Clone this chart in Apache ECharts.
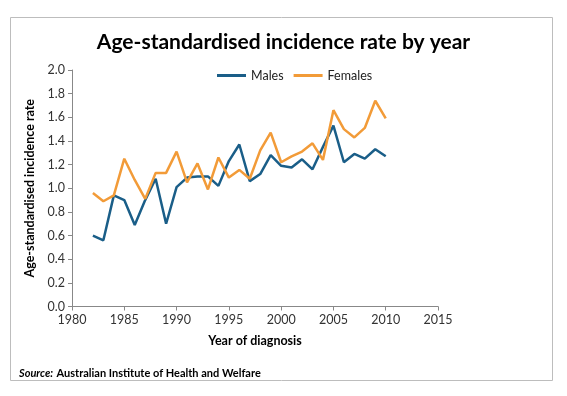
<!DOCTYPE html>
<html><head><meta charset="utf-8">
<script src="https://cdn.jsdelivr.net/npm/echarts@6/dist/echarts.min.js"></script>
<style>html,body{margin:0;padding:0;background:#fff}#c{width:567px;height:396px}</style>
</head><body><div id="c"></div>
<script>
var years = [1982,1983,1984,1985,1986,1987,1988,1989,1990,1991,1992,1993,1994,1995,1996,1997,1998,1999,2000,2001,2002,2003,2004,2005,2006,2007,2008,2009,2010];
var males = [0.60,0.56,0.94,0.90,0.69,0.90,1.08,0.70,1.01,1.09,1.10,1.10,1.02,1.23,1.37,1.06,1.12,1.28,1.19,1.175,1.245,1.16,1.35,1.53,1.22,1.29,1.25,1.33,1.27];
var females = [0.96,0.89,0.94,1.25,1.07,0.91,1.13,1.13,1.31,1.05,1.21,0.99,1.26,1.09,1.155,1.08,1.32,1.47,1.22,1.27,1.31,1.38,1.24,1.66,1.50,1.43,1.51,1.74,1.59];
var xTicks = {min:1980, max:2015, interval:5};
var yTicks = {min:0, max:2.0, interval:0.2};

function pairs(v){ return years.map(function(y,i){ return [y, v[i]]; }); }
var FONT = 'Lato, "Open Sans", sans-serif';
var chart = echarts.init(document.getElementById('c'), null, {renderer:'canvas'});
chart.setOption({
  animation:false,
  backgroundColor:'#fff',
  textStyle:{fontFamily:FONT},
  title:{text:'Age-standardised incidence rate by year', left:'center', top:27,
    textStyle:{fontFamily:FONT, fontSize:21, fontWeight:'bold', color:'#000'}},
  legend:{top:64, left:212, itemWidth:29, itemHeight:3, itemGap:10,
    icon:'rect',
    textStyle:{fontFamily:FONT, fontSize:12.5, color:'#222'},
    data:['Males','Females']},
  grid:{left:72, right:129, top:70, bottom:89.5, containLabel:false},
  xAxis:{type:'value', min:xTicks.min, max:xTicks.max, interval:xTicks.interval,
    name:'Year of diagnosis', nameLocation:'middle', nameGap:28,
    nameTextStyle:{fontFamily:FONT, fontSize:12.5, fontWeight:'bold', color:'#000'},
    axisLine:{lineStyle:{color:'#888', width:1}},
    axisTick:{show:true, length:4, lineStyle:{color:'#888'}},
    axisLabel:{fontFamily:FONT, fontSize:12.5, color:'#333', margin:7,
      formatter:function(v){return String(v);}},
    splitLine:{show:false}},
  yAxis:{type:'value', min:yTicks.min, max:yTicks.max, interval:yTicks.interval,
    name:'Age-standardised incidence rate', nameLocation:'middle', nameGap:31,
    nameTextStyle:{fontFamily:FONT, fontSize:12.5, fontWeight:'bold', color:'#000'},
    axisLine:{show:true, lineStyle:{color:'#888', width:1}},
    axisTick:{show:true, length:4, lineStyle:{color:'#888'}},
    axisLabel:{fontFamily:FONT, fontSize:12.5, color:'#333', margin:7,
      formatter:function(v){return v.toFixed(1);}},
    splitLine:{show:false}},
  graphic:[
    {type:'rect', shape:{x:10.5, y:17.5, width:542, height:363},
     style:{fill:'none', stroke:'#bdbdbd', lineWidth:1}, silent:true, z:-1},
    {type:'text', left:19, top:367,
     style:{text:'{i|Source:} {b|Australian Institute of Health and Welfare}',
       rich:{i:{fontFamily:FONT, fontSize:11, fontWeight:'bold', fontStyle:'italic', fill:'#000'},
             b:{fontFamily:FONT, fontSize:11, fontWeight:'bold', fill:'#000'}}}}
  ],
  series:[
    {name:'Males', type:'line', data:pairs(males), symbol:'none',
     lineStyle:{width:2.5, color:'#1a5e88'}, itemStyle:{color:'#1a5e88'}},
    {name:'Females', type:'line', data:pairs(females), symbol:'none',
     lineStyle:{width:2.5, color:'#f29b38'}, itemStyle:{color:'#f29b38'}}
  ]
});
</script></body></html>
